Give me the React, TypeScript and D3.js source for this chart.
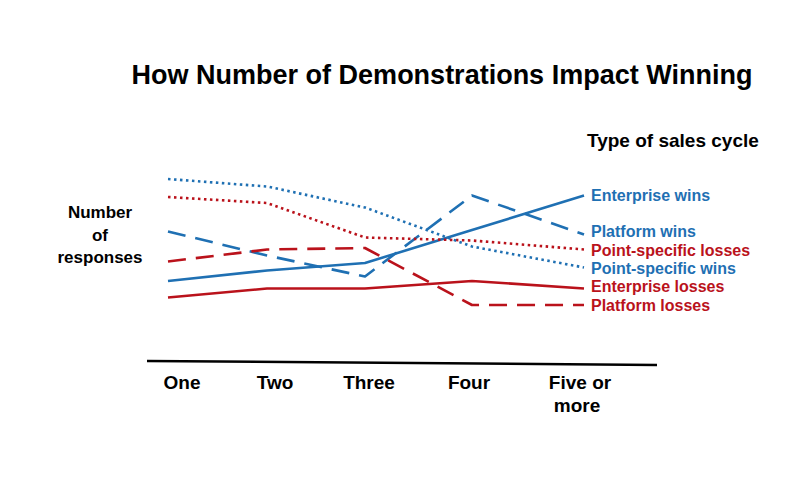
import React from "react";
import * as d3 from "d3";

const categories = ["One", "Two", "Three", "Four", "Five or more"];
const seriesNames = [
  "Enterprise wins",
  "Platform wins",
  "Point-specific losses",
  "Point-specific wins",
  "Enterprise losses",
  "Platform losses",
];
const enterpriseWins = [26, 33, 38, 60, 83];
const platformWins = [59, 43, 29, 83, 57];
const pointSpecificLosses = [82, 78, 55, 53, 47];
const pointSpecificWins = [94, 89, 75, 49, 35];
const enterpriseLosses = [15, 21, 21, 26, 21];
const platformLosses = [39, 47, 48, 10, 10];

const BLUE = "#1f70b3";
const RED = "#ba121b";

const FONT = "'Liberation Sans', Arial, sans-serif";

export default function App() {
  const W = 789;
  const H = 489;
  const x = d3
    .scaleOrdinal<string, number>()
    .domain(categories)
    .range([168, 267, 365, 472, 584]);
  const y = d3.scaleLinear().domain([0, 100]).range([320, 170]);

  const series = [
    { name: seriesNames[0], values: enterpriseWins, color: BLUE, dash: "none", labelY: 195 },
    { name: seriesNames[1], values: platformWins, color: BLUE, dash: "18,10", labelY: 231 },
    { name: seriesNames[2], values: pointSpecificLosses, color: RED, dash: "2.5,3.5", labelY: 250 },
    { name: seriesNames[3], values: pointSpecificWins, color: BLUE, dash: "2.5,3.5", labelY: 268 },
    { name: seriesNames[4], values: enterpriseLosses, color: RED, dash: "none", labelY: 286 },
    { name: seriesNames[5], values: platformLosses, color: RED, dash: "18,10", labelY: 305 },
  ];

  const line = d3
    .line<[string, number]>()
    .x((d) => x(d[0]))
    .y((d) => y(d[1]));

  const labelX = [182, 275, 369, 469, 580];

  return (
    <svg
      width={W}
      height={H}
      style={{ position: "absolute", left: 0, top: 0, background: "#fff" }}
      fontFamily={FONT}
    >
      <rect width={W} height={H} fill="#fff" />
      <text x={442} y={84} textAnchor="middle" fontSize={27} fontWeight="bold" fill="#000">
        How Number of Demonstrations Impact Winning
      </text>
      <text x={587} y={147} fontSize={19} fontWeight="bold" fill="#000">
        Type of sales cycle
      </text>
      <g fontSize={17} fontWeight="bold" fill="#000" textAnchor="middle">
        <text x={100} y={218}>Number</text>
        <text x={100} y={241}>of</text>
        <text x={100} y={263}>responses</text>
      </g>
      {series.map((s) => (
        <path
          key={s.name}
          d={line(categories.map((c, i) => [c, s.values[i]] as [string, number])) || ""}
          fill="none"
          stroke={s.color}
          strokeWidth={2.6}
          strokeDasharray={s.dash}
          strokeLinejoin="round"
        />
      ))}
      {series.map((s) => (
        <text
          key={"l" + s.name}
          x={591}
          y={s.labelY}
          dy="0.35em"
          fontSize={16}
          fontWeight="bold"
          fill={s.color}
        >
          {s.name}
        </text>
      ))}
      <line x1={147} y1={361} x2={657} y2={365} stroke="#000" strokeWidth={2.5} />
      <g fontSize={19} fontWeight="bold" fill="#000" textAnchor="middle">
        {categories.map((c, i) =>
          c === "Five or more" ? (
            <text key={c} x={labelX[i]} y={389}>
              <tspan x={labelX[i]}>Five or</tspan>
              <tspan x={labelX[i] - 3} dy={23}>more</tspan>
            </text>
          ) : (
            <text key={c} x={labelX[i]} y={389}>
              {c}
            </text>
          )
        )}
      </g>
    </svg>
  );
}
